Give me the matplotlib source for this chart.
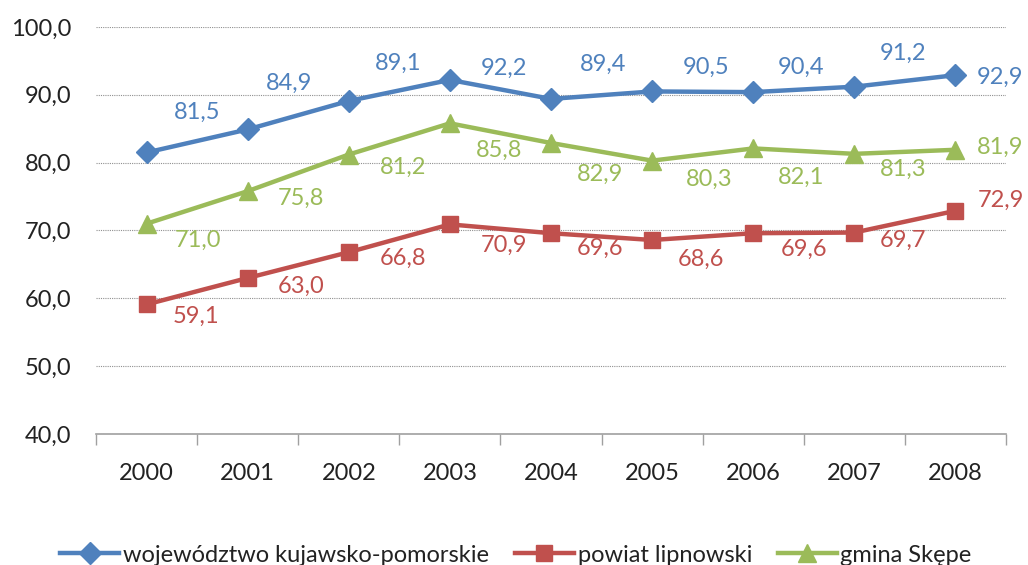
import numpy as np
import matplotlib.pyplot as plt

years = ["2000", "2001", "2002", "2003", "2004", "2005", "2006", "2007", "2008"]
wojewodztwo = [81.5, 84.9, 89.1, 92.2, 89.4, 90.5, 90.4, 91.2, 92.9]
powiat = [59.1, 63.0, 66.8, 70.9, 69.6, 68.6, 69.6, 69.7, 72.9]
gmina = [71.0, 75.8, 81.2, 85.8, 82.9, 80.3, 82.1, 81.3, 81.9]
names = ["województwo kujawsko-pomorskie", "powiat lipnowski", "gmina Skępe"]

plt.rcParams['font.family'] = ['Lato', 'DejaVu Sans']

fig = plt.figure(figsize=(10.28, 5.65), dpi=100)
ax = fig.add_axes([96 / 1028, 131 / 565, 910 / 1028, 407 / 565])

x = np.arange(len(years))
series = [
    (wojewodztwo, "#4F81BD", "D", 11),
    (powiat, "#C0504D", "s", 12),
    (gmina, "#9BBB59", "^", 13),
]
# label offsets in pixels (dx, dy up), hand-placed like in the original
offsets = [
    [(51, 40), (41, 46), (49, 38), (54, 12), (52, 35), (54, 24), (48, 25), (49, 33), (45, -2)],
    [(49, -12), (53, -8), (54, -6), (54, -21), (49, -15), (49, -19), (51, -16), (49, -8), (45, 10)],
    [(51, -17), (53, -7), (54, -13), (49, -27), (49, -31), (57, -19), (48, -29), (49, -15), (45, 2)],
]

handles = []
for (vals, color, marker, ms), offs in zip(series, offsets):
    h, = ax.plot(x, vals, color=color, lw=3.2, marker=marker, ms=ms,
                 markeredgecolor=color, clip_on=False)
    handles.append(h)
    for xi, v, (dx, dy) in zip(x, vals, offs):
        ax.annotate(f"{v:.1f}".replace(".", ","), (xi, v), xytext=(dx, dy),
                    textcoords="offset pixels", ha="center", va="center",
                    color=color, fontsize=17)

ax.set_xlim(-0.5, 8.5)
ax.set_ylim(40, 100)
ax.set_yticks(np.arange(40, 101, 10))
ax.set_yticklabels([f"{t:.1f}".replace(".", ",") for t in np.arange(40, 101, 10)])
ax.set_xticks(x)
ax.set_xticklabels(years)
ax.set_xticks(np.arange(-0.5, 9, 1), minor=True)

ax.tick_params(axis="y", length=0, pad=18, labelsize=17, labelcolor="#222222")
ax.tick_params(axis="x", which="major", length=0, pad=21, labelsize=17,
               labelcolor="#222222")
ax.tick_params(axis="x", which="minor", length=8, color="#a0a0a0", width=1)

for s in ["left", "right", "top"]:
    ax.spines[s].set_visible(False)
ax.spines["bottom"].set_color("#a0a0a0")
ax.spines["bottom"].set_linewidth(1.2)

ax.grid(axis="y", color="#909090", linestyle=(0, (1, 1)), linewidth=0.8)
ax.set_axisbelow(True)

fig.legend(handles, names, loc="center", bbox_to_anchor=(0.502, 10 / 565),
           ncol=3, frameon=False, fontsize=17, handlelength=2.5,
           columnspacing=1.1, handletextpad=0.15, labelcolor="#222222")

fig.savefig("out.png", dpi=100)
